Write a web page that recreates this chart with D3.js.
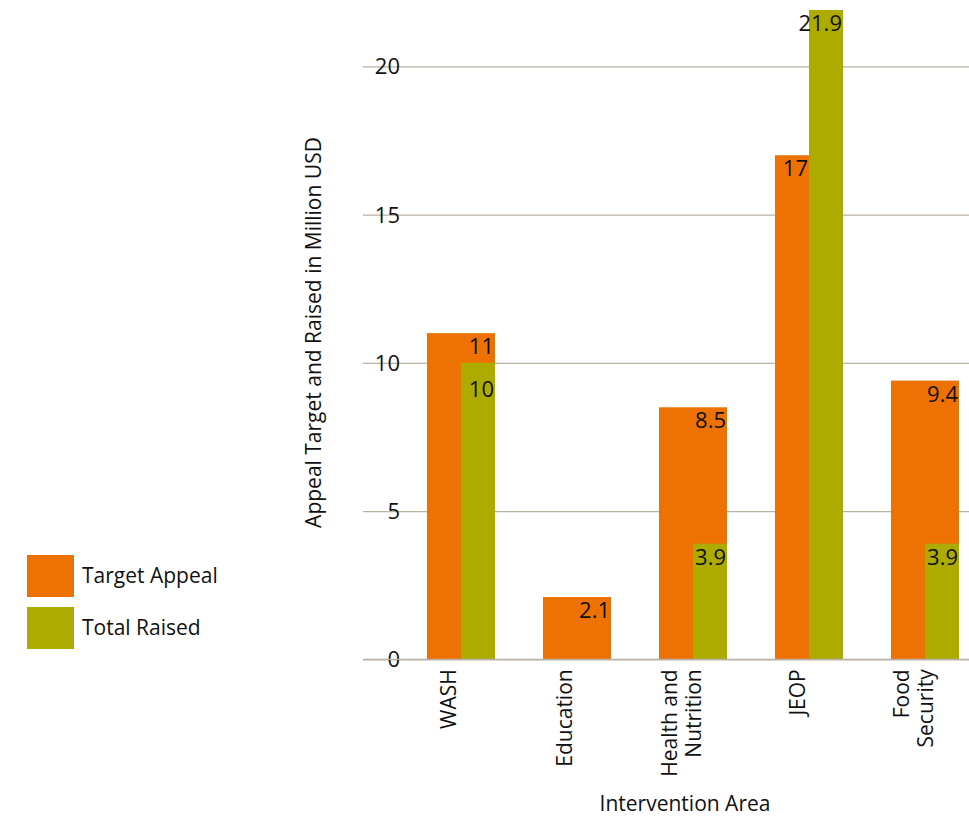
<!DOCTYPE html>
<html>
<head>
<meta charset="utf-8">
<script src="https://cdn.jsdelivr.net/npm/d3@7"></script>
<style>
  body { margin: 0; background: #fff; }
  svg text { font-family: "Open Sans", sans-serif; fill: #111; }
</style>
</head>
<body>
<div id="chart"></div>
<script>
const categories = ["WASH", "Education", "Health and Nutrition", "JEOP", "Food Security"];
const tickLabels = [["WASH"], ["Education"], ["Health and", "Nutrition"], ["JEOP"], ["Food", "Security"]];
const seriesNames = ["Target Appeal", "Total Raised"];
const targetAppeal = [11, 2.1, 8.5, 17, 9.4];
const totalRaised = [10, null, 3.9, 21.9, 3.9];
const yTicks = [0, 5, 10, 15, 20];

const colors = { "Target Appeal": "#ed7203", "Total Raised": "#adab00" };
const gridColor = "#b9b1a4";

const W = 969, H = 817;
const svg = d3.select("#chart").append("svg")
  .attr("width", W)
  .attr("height", H);

const y = d3.scaleLinear().domain([0, 20]).range([659.3, 66.3]);

const x0 = d3.scaleBand()
  .domain(categories)
  .range([415.4, 970.6])
  .paddingInner(0.4138)
  .paddingOuter(0.1);

const x1 = d3.scaleBand()
  .domain(seriesNames)
  .range([0, x0.bandwidth()]);

const rows = categories.map((c, i) => ({
  cat: c,
  lines: tickLabels[i],
  target: targetAppeal[i],
  raised: totalRaised[i]
}));

// gridlines + y tick labels
const gx = 363;
svg.append("g")
  .attr("transform", `translate(${gx},0)`)
  .call(d3.axisLeft(y).tickValues(yTicks).tickSize(-(W - gx)).tickPadding(0))
  .call((g) => g.select(".domain").remove())
  .call((g) => g.selectAll("line").attr("stroke", gridColor).attr("stroke-width", 1.3))
  .call((g) => g.selectAll("text")
    .attr("x", 37)
    .attr("dy", "0.34em")
    .attr("text-anchor", "end")
    .attr("font-size", "22px")
    .attr("font-family", "Open Sans")
    .attr("fill", "#111"));

// Target bars (full group width unless raised is taller)
svg.selectAll(".bar-target")
  .data(rows)
  .join("rect")
  .attr("class", "bar-target")
  .attr("x", (d) => x0(d.cat))
  .attr("y", (d) => y(d.target))
  .attr("width", (d) => (d.raised != null && d.raised > d.target) ? x1.bandwidth() : x0.bandwidth())
  .attr("height", (d) => y(0) - y(d.target))
  .attr("fill", colors["Target Appeal"]);

// Raised bars
const raisedRows = rows.filter((d) => d.raised != null);
svg.selectAll(".bar-raised")
  .data(raisedRows)
  .join("rect")
  .attr("class", "bar-raised")
  .attr("x", (d) => x0(d.cat) + x1("Total Raised"))
  .attr("y", (d) => y(d.raised))
  .attr("width", x1.bandwidth())
  .attr("height", (d) => y(0) - y(d.raised))
  .attr("fill", colors["Total Raised"]);

// value labels
function targetRight(d) {
  return (d.raised != null && d.raised > d.target) ? x0(d.cat) + x1.bandwidth() : x0(d.cat) + x0.bandwidth();
}
svg.selectAll(".lbl-target")
  .data(rows)
  .join("text")
  .attr("class", "lbl-target")
  .attr("x", (d) => targetRight(d) - 1)
  .attr("y", (d) => y(d.target) + 21)
  .attr("text-anchor", "end")
  .attr("font-size", "22px")
  .text((d) => d.target);

svg.selectAll(".lbl-raised")
  .data(raisedRows)
  .join("text")
  .attr("class", "lbl-raised")
  .attr("x", (d) => x0(d.cat) + x0.bandwidth() - 1)
  // push down when it sits close under the target label
  .attr("y", (d) => y(d.raised) + (d.raised < d.target && y(d.raised) - y(d.target) < 36 ? 34 : 21))
  .attr("text-anchor", "end")
  .attr("font-size", "22px")
  .text((d) => d.raised);

// x axis line
svg.append("line")
  .attr("x1", gx).attr("x2", W)
  .attr("y1", y(0)).attr("y2", y(0))
  .attr("stroke", gridColor)
  .attr("stroke-width", 1.3);

// x tick labels, rotated
const lineH = 24, cap = 15;
const xt = svg.append("g")
  .selectAll("g")
  .data(rows)
  .join("g")
  .attr("transform", (d) => `translate(${x0(d.cat) + x0.bandwidth() / 2},${y(0)}) rotate(-90)`);

xt.each(function (d) {
  const k = d.lines.length;
  const first = -12 - ((k - 1) * lineH - cap) / 2;
  d3.select(this).selectAll("text")
    .data(d.lines)
    .join("text")
    .attr("x", -10)
    .attr("y", (t, i) => first + i * lineH)
    .attr("text-anchor", "end")
    .attr("font-size", "21px")
    .text((t) => t);
});

// axis titles
svg.append("text")
  .attr("transform", "translate(321,332.5) rotate(-90)")
  .attr("text-anchor", "middle")
  .attr("font-size", "21px")
  .text("Appeal Target and Raised in Million USD");

svg.append("text")
  .attr("x", 685)
  .attr("y", 811)
  .attr("text-anchor", "middle")
  .attr("font-size", "21px")
  .text("Intervention Area");

// legend
const legend = svg.append("g")
  .selectAll("g")
  .data(seriesNames)
  .join("g")
  .attr("transform", (d, i) => `translate(27,${555 + i * 52})`);

legend.append("rect")
  .attr("width", 47)
  .attr("height", 42)
  .attr("fill", (d) => colors[d]);

legend.append("text")
  .attr("x", 55)
  .attr("y", 28)
  .attr("font-size", "21px")
  .text((d) => d);
</script>
</body>
</html>
